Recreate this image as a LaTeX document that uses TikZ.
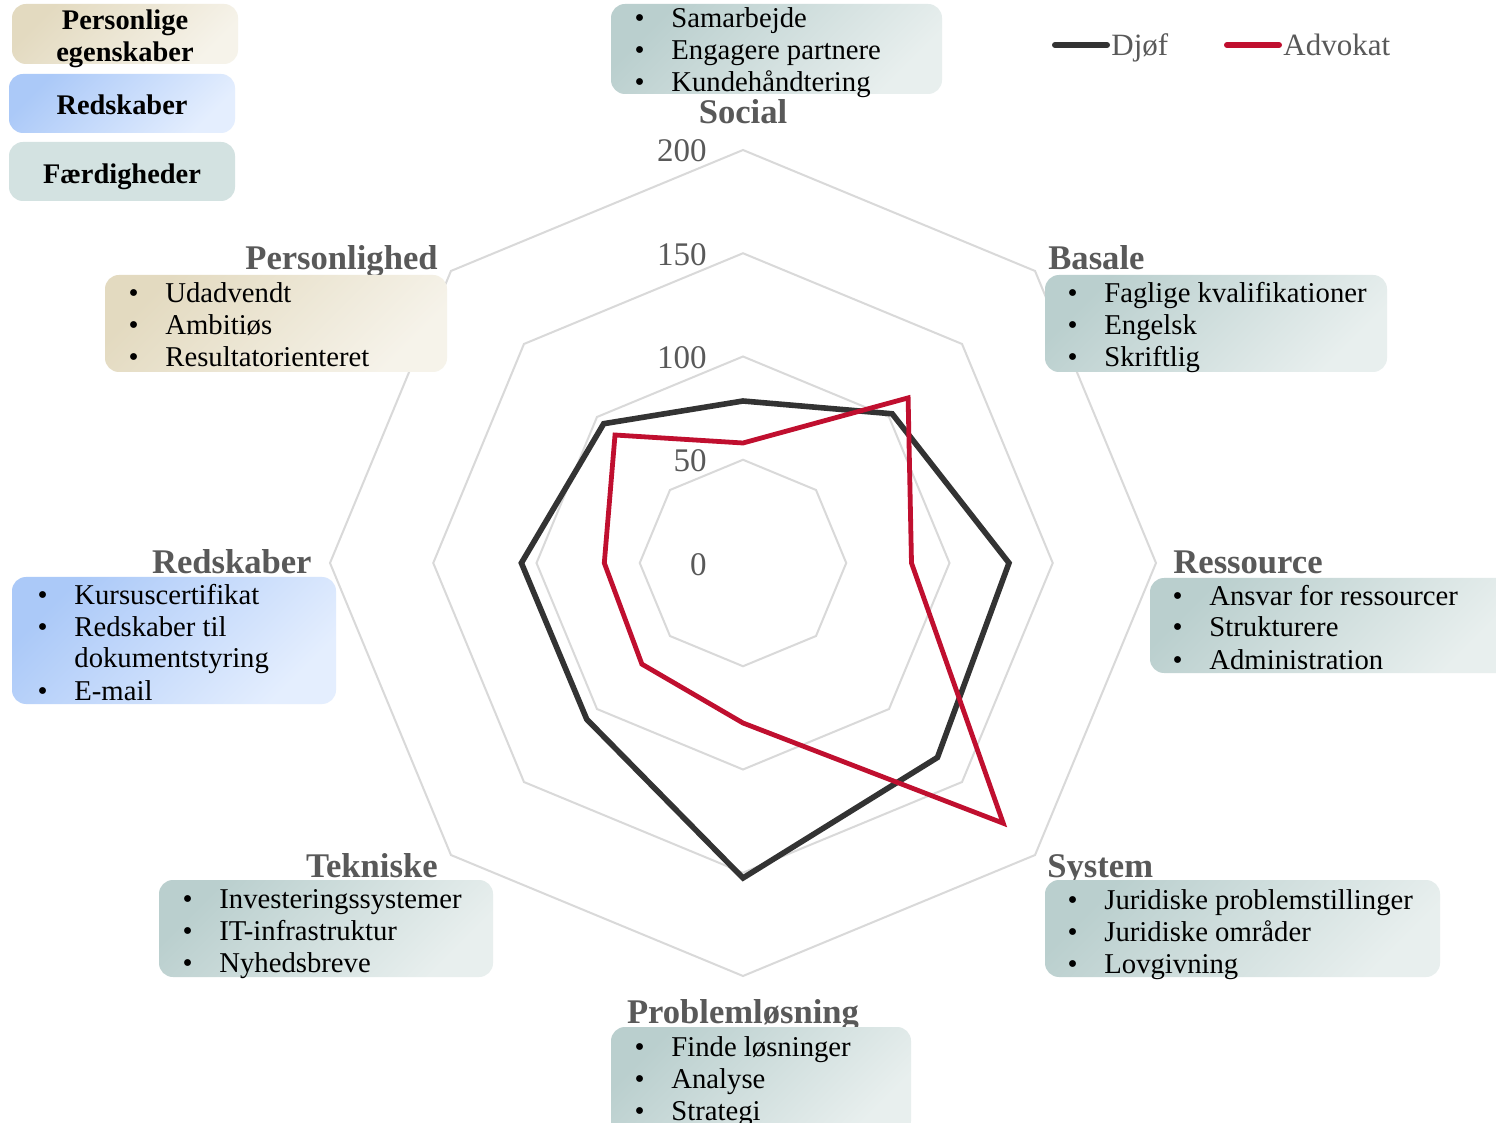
\documentclass[tikz,border=0pt]{standalone}
\usepackage{fontspec}
\setmainfont{Liberation Serif}
\definecolor{lbl}{HTML}{595959}
\definecolor{gridc}{HTML}{D9D9D9}
\definecolor{djofc}{HTML}{333333}
\definecolor{advc}{HTML}{C00F2F}
\definecolor{tealA}{HTML}{BACFCE}
\definecolor{tealB}{HTML}{E8EFEE}
\definecolor{beigeA}{HTML}{E3DAC0}
\definecolor{beigeB}{HTML}{F6F3EA}
\definecolor{blueA}{HTML}{ABC9F8}
\definecolor{blueB}{HTML}{E4EEFE}
\definecolor{faerc}{HTML}{D3E2E1}
\newcommand{\itemline}[4]{%
  \node[bul, anchor=base east] (#1b) at (#2-26,#3+1) {•};
  \node[itm, anchor=base west] (#1) at (#2,#3+1) {#4};}
\begin{document}
\begin{tikzpicture}[x=0.5pt,y=-0.5pt,
  gridline/.style={draw=gridc, line width=1pt},
  djof/.style={draw=djofc, line width=2.8pt},
  adv/.style={draw=advc, line width=2.4pt},
  tealbox/.style={rounded corners=7pt, inner sep=0pt, top color=tealA, bottom color=tealB, shading angle=45},
  beigebox/.style={rounded corners=7pt, inner sep=0pt, top color=beigeA, bottom color=beigeB, shading angle=45},
  bluebox/.style={rounded corners=7pt, inner sep=0pt, top color=blueA, bottom color=blueB, shading angle=45},
  itm/.style={inner sep=0pt, font=\fontsize{14.35}{16}\selectfont, text=black},
  bul/.style={inner sep=0pt, font=\fontsize{14.35}{16}\selectfont, text=black},
  axlbl/.style={inner sep=0pt, font=\fontsize{17.3}{20}\selectfont\bfseries, text=lbl},
  num/.style={inner sep=0pt, font=\fontsize{16.5}{18}\selectfont, text=lbl, anchor=base east},
  leg/.style={inner sep=0pt, font=\fontsize{15.5}{18}\selectfont, text=lbl, anchor=base west},
  hdr/.style={inner sep=0pt, font=\fontsize{14.2}{16}\selectfont\bfseries, text=black, anchor=base},
  legline/.style={line width=3pt, line cap=round}
]
\useasboundingbox (0,0) rectangle (1496,1123);
\fill[white] (0,0) rectangle (1496,1123);

% grid and data
\begin{scope}[shift={(743,563)}]
  \foreach \r in {103.25,206.5,309.75,413}
    \draw[gridline] (0:\r) -- (45:\r) -- (90:\r) -- (135:\r) -- (180:\r) -- (225:\r) -- (270:\r) -- (315:\r) -- cycle;
  \coordinate (d1) at (-90:162);
  \coordinate (d2) at (-45:211);
  \coordinate (d3) at (0:266);
  \coordinate (d4) at (45:275);
  \coordinate (d5) at (90:315);
  \coordinate (d6) at (135:221);
  \coordinate (d7) at (180:221.6);
  \coordinate (d8) at (225:197);
  \coordinate (a1) at (-90:120);
  \coordinate (a2) at (-45:233.5);
  \coordinate (a3) at (0:168.5);
  \coordinate (a4) at (45:368);
  \coordinate (a5) at (90:160);
  \coordinate (a6) at (135:143);
  \coordinate (a7) at (180:138.7);
  \coordinate (a8) at (225:181);
  \draw[djof] (d1) -- (d2) -- (d3) -- (d4) -- (d5) -- (d6) -- (d7) -- (d8) -- cycle;
  \draw[adv] (a1) -- (a2) -- (a3) -- (a4) -- (a5) -- (a6) -- (a7) -- (a8) -- cycle;
\end{scope}

% scale numbers
\node[num] (n200) at (707,162) {200};
\node[num] (n150) at (707,266) {150};
\node[num] (n100) at (707,369) {100};
\node[num] (n50) at (707,472) {50};
\node[num] (n0) at (707,575) {0};

% legend boxes top-left
\node[beigebox, minimum width=113pt, minimum height=30pt] (pebox) at (125,34) {};
\node[hdr] (pe1) at (125,30) {Personlige};
\node[hdr] (pe2) at (125,62) {egenskaber};
\node[bluebox, minimum width=113pt, minimum height=29.5pt] (rebox) at (122,103.5) {};
\node[hdr] (re1) at (122,115) {Redskaber};
\node[rounded corners=7pt, inner sep=0pt, fill=faerc, minimum width=113pt, minimum height=29.5pt] (fabox) at (122,171.5) {};
\node[hdr] (fa1) at (122,184) {Færdigheder};

% series legend
\coordinate (lg1a) at (1055,45);
\coordinate (lg1b) at (1107,45);
\draw[legline, djofc] (lg1a) -- (lg1b);
\node[leg] (lgt1) at (1111,56) {Djøf};
\coordinate (lg2a) at (1227,45);
\coordinate (lg2b) at (1279,45);
\draw[legline, advc] (lg2a) -- (lg2b);
\node[leg] (lgt2) at (1283,56) {Advokat};

% Social
\node[tealbox, minimum width=165.5pt, minimum height=45pt] (socbox) at (776.5,49) {};
\itemline{soc1}{671}{27}{Samarbejde}
\itemline{soc2}{671}{59}{Engagere partnere}
\itemline{soc3}{671}{91}{Kundehåndtering}
\node[axlbl, anchor=base] (soclbl) at (743,124) {Social};

% Basale
\node[axlbl, anchor=base west] (baslbl) at (1048,270) {Basale};
\node[tealbox, minimum width=171pt, minimum height=48.5pt] (basbox) at (1216,323.5) {};
\itemline{bas1}{1104}{302}{Faglige kvalifikationer}
\itemline{bas2}{1104}{334}{Engelsk}
\itemline{bas3}{1104}{366}{Skriftlig}

% Ressource
\node[axlbl, anchor=base west] (reslbl) at (1173,574) {Ressource};
\node[tealbox, minimum width=180pt, minimum height=47.5pt] (resbox) at (1330,625.5) {};
\itemline{res1}{1209}{604}{Ansvar for ressourcer}
\itemline{res2}{1209}{636}{Strukturere}
\itemline{res3}{1209}{668}{Administration}

% System
\node[axlbl, anchor=base west] (syslbl) at (1047,877) {System};
\node[tealbox, minimum width=197.5pt, minimum height=48.5pt] (sysbox) at (1242.5,928.5) {};
\itemline{sys1}{1104}{908}{Juridiske problemstillinger}
\itemline{sys2}{1104}{940}{Juridiske områder}
\itemline{sys3}{1104}{972}{Lovgivning}

% Problemløsning
\node[axlbl, anchor=base] (prolbl) at (743,1023) {Problemløsning};
\node[tealbox, minimum width=150pt, minimum height=54pt] (probox) at (761,1081) {};
\itemline{pro1}{671}{1055}{Finde løsninger}
\itemline{pro2}{671}{1087}{Analyse}
\itemline{pro3}{671}{1119}{Strategi}

% Tekniske
\node[axlbl, anchor=base east] (teklbl) at (438,877) {Tekniske};
\node[tealbox, minimum width=167pt, minimum height=48.5pt] (tekbox) at (326,928.5) {};
\itemline{tek1}{219}{907}{Investeringssystemer}
\itemline{tek2}{219}{939}{IT-infrastruktur}
\itemline{tek3}{219}{971}{Nyhedsbreve}

% Redskaber
\node[axlbl, anchor=base east] (rdlbl) at (312,574) {Redskaber};
\node[bluebox, minimum width=162pt, minimum height=63.5pt] (rdbox) at (174,640.5) {};
\itemline{rd1}{74}{603}{Kursuscertifikat}
\itemline{rd2}{74}{635}{Redskaber til}
\node[itm, anchor=base west] (rd2c) at (74,668) {dokumentstyring};
\itemline{rd3}{74}{699}{E-mail}

% Personlighed
\node[axlbl, anchor=base east] (perlbl) at (438,270) {Personlighed};
\node[beigebox, minimum width=171pt, minimum height=48.5pt] (perbox) at (276,323.5) {};
\itemline{per1}{165}{302}{Udadvendt}
\itemline{per2}{165}{334}{Ambitiøs}
\itemline{per3}{165}{366}{Resultatorienteret}
\end{tikzpicture}
\end{document}
